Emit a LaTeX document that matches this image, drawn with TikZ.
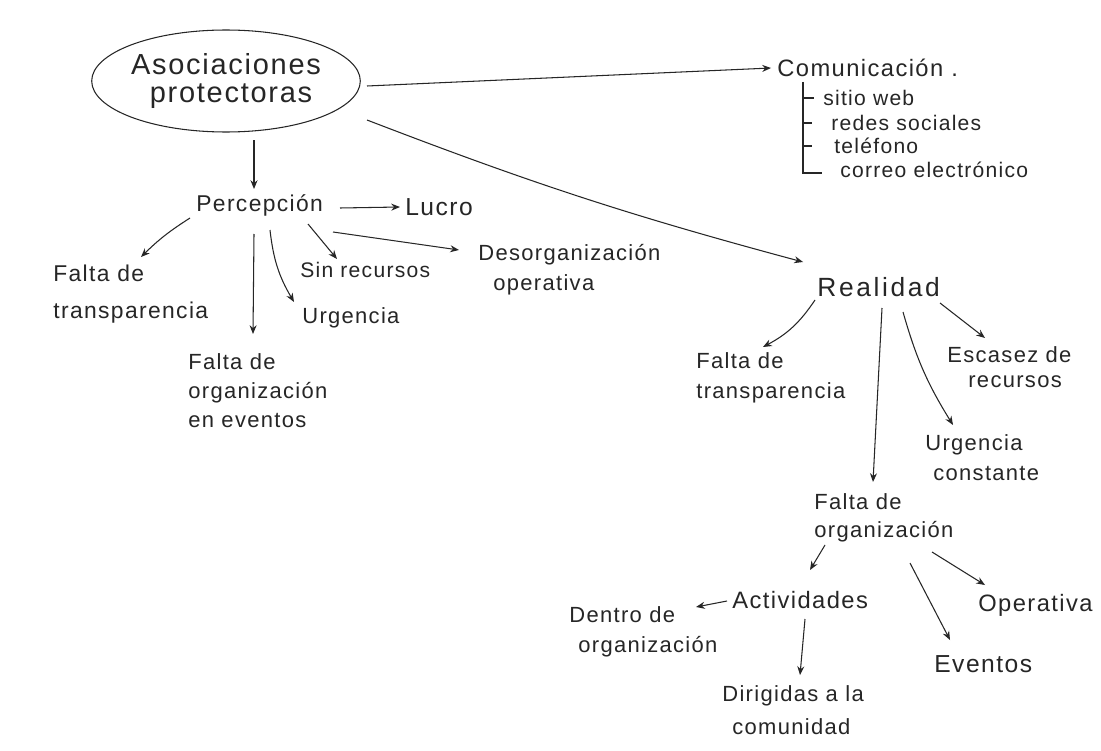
\documentclass[tikz,border=0pt]{standalone}
\usepackage{fontspec}
\setmainfont{Liberation Sans}[LetterSpace=6.0]
\usetikzlibrary{arrows.meta,calc,shapes.geometric}
\begin{document}
\begin{tikzpicture}[x=0.02cm,y=-0.02cm,
  ink/.style={draw=black!85, line width=0.6pt},
  arr/.style={ink, -{Stealth[length=5pt,width=4pt]}},
  lbl/.style={anchor=west, inner sep=0pt, text=black!85, align=left, font=\fontsize{12.5}{17}\selectfont},
  small/.style={lbl, font=\fontsize{12}{15}\selectfont},
]
\useasboundingbox[fill=white] (0,0) rectangle (1101,750);

% root
\node[ellipse, ink, text=black!85, minimum width=5.24cm, minimum height=2.04cm, inner sep=0pt,
      align=center, font=\fontsize{16.5}{15.5}\selectfont] (aso) at (226,81) {Asociaciones\\\hspace*{0.2cm}protectoras};

% communication list
\node[lbl, font=\fontsize{13.5}{17}\selectfont] (com) at (777,68) {Comunicación .};
\node[small] (web) at (823,98) {sitio web};
\node[small] (redes) at (831,123) {redes sociales};
\node[small] (tel) at (834,146) {teléfono};
\node[small] (correo) at (840,170) {correo electrónico};
\draw[ink] ($(com.west)+(26,14)$) -- ($(com.west)+(26,105)$) -- ($(correo.west)+(-18,3)$);
\draw[ink] ($(web.west)+(-20,0)$) -- ($(web.west)+(-9,0)$);
\draw[ink] ($(redes.west)+(-28,0)$) -- ($(redes.west)+(-19,0)$);
\draw[ink] ($(tel.west)+(-31,0)$) -- ($(tel.west)+(-22,0)$);

% perception branch
\node[lbl, font=\fontsize{13}{17}\selectfont] (perc) at (196,205) {Percepción};
\node[lbl, font=\fontsize{14}{17}\selectfont] (lucro) at (405,207) {Lucro};
\node[lbl] (deso) at (478,270) {Desorganización\\\hspace*{0.3cm}operativa};
\node[lbl, font=\fontsize{13}{17}\selectfont] (ftl) at (53,294) {Falta de\\[4.5pt]transparencia};
\node[lbl, font=\fontsize{12}{17}\selectfont] (sinr) at (300,270) {Sin recursos};
\node[lbl] (urg) at (302,318) {Urgencia};
\node[lbl, font=\fontsize{12.5}{16.5}\selectfont] (feo) at (188,391) {Falta de\\organización\\en eventos};

% reality branch
\node[lbl, font=\fontsize{15}{17}\selectfont\addfontfeatures{LetterSpace=10.0}] (real) at (817,287) {Realidad};
\node[lbl] (ftr) at (696,378) {Falta de\\transparencia};
\node[lbl, font=\fontsize{12.5}{14}\selectfont] (esc) at (947,367) {Escasez de\\\hspace*{0.42cm}recursos};
\node[lbl] (urc) at (925,458) {Urgencia\\\hspace*{0.16cm}constante};
\node[lbl, font=\fontsize{12.5}{16}\selectfont] (fdo) at (814,518) {Falta de\\organización};
\node[lbl, font=\fontsize{13.5}{17}\selectfont] (act) at (732,600) {Actividades};
\node[lbl] (den) at (569,632) {Dentro de\\\hspace*{0.18cm}organización};
\node[lbl, font=\fontsize{12.5}{19}\selectfont] (dir) at (722,710) {Dirigidas a la\\\hspace*{0.2cm}comunidad};
\node[lbl, font=\fontsize{14}{17}\selectfont] (eve) at (934,664) {Eventos};
\node[lbl, font=\fontsize{13.5}{17}\selectfont] (ope) at (978,605) {Operativa};

% connectors
\draw[arr] ($(aso.center)+(28,59)$) -- ($(perc.west)+(58,-16)$);
\draw[arr] ($(aso.center)+(141,5)$) -- ($(com.west)+(-6,0)$);
\draw[arr] ($(aso.center)+(141,39)$) to[bend right=3] ($(real.west)+(-14,-25)$);

\draw[arr] ($(perc.west)+(144,3)$) -- ($(lucro.west)+(-5,0)$);
\draw[arr] ($(perc.west)+(137,27)$) -- ($(deso.west)+(-19,-20)$);
\draw[arr] ($(perc.west)+(-6,13)$) to[bend right=6] ($(ftl.west)+(88,-37)$);
\draw[arr] ($(perc.west)+(112,19)$) -- ($(sinr.west)+(37,-11)$);
\draw[arr] ($(perc.west)+(74,25)$) to[bend right=12] ($(urg.west)+(-8,-16)$);
\draw[arr] ($(perc.west)+(58,29)$) -- ($(feo.west)+(65,-57)$);

\draw[arr] ($(real.west)+(-2,13)$) to[bend left=14] ($(ftr.west)+(67,-31)$);
\draw[arr] ($(real.west)+(65,21)$) -- ($(fdo.west)+(59,-36)$);
\draw[arr] ($(real.west)+(86,25)$) to[bend right=8] ($(urc.west)+(28,-33)$);
\draw[arr] ($(real.west)+(123,16)$) -- ($(esc.west)+(38,-29)$);

\draw[arr] ($(fdo.west)+(11,27)$) -- ($(act.west)+(78,-30)$);
\draw[arr] ($(fdo.west)+(96,45)$) -- ($(eve.west)+(16,-24)$);
\draw[arr] ($(fdo.west)+(118,34)$) -- ($(ope.west)+(7,-20)$);
\draw[arr] ($(act.west)+(-5,1)$) -- ($(den.west)+(127,-25)$);
\draw[arr] ($(act.west)+(73,19)$) -- ($(dir.west)+(78,-35)$);
\end{tikzpicture}
\end{document}
